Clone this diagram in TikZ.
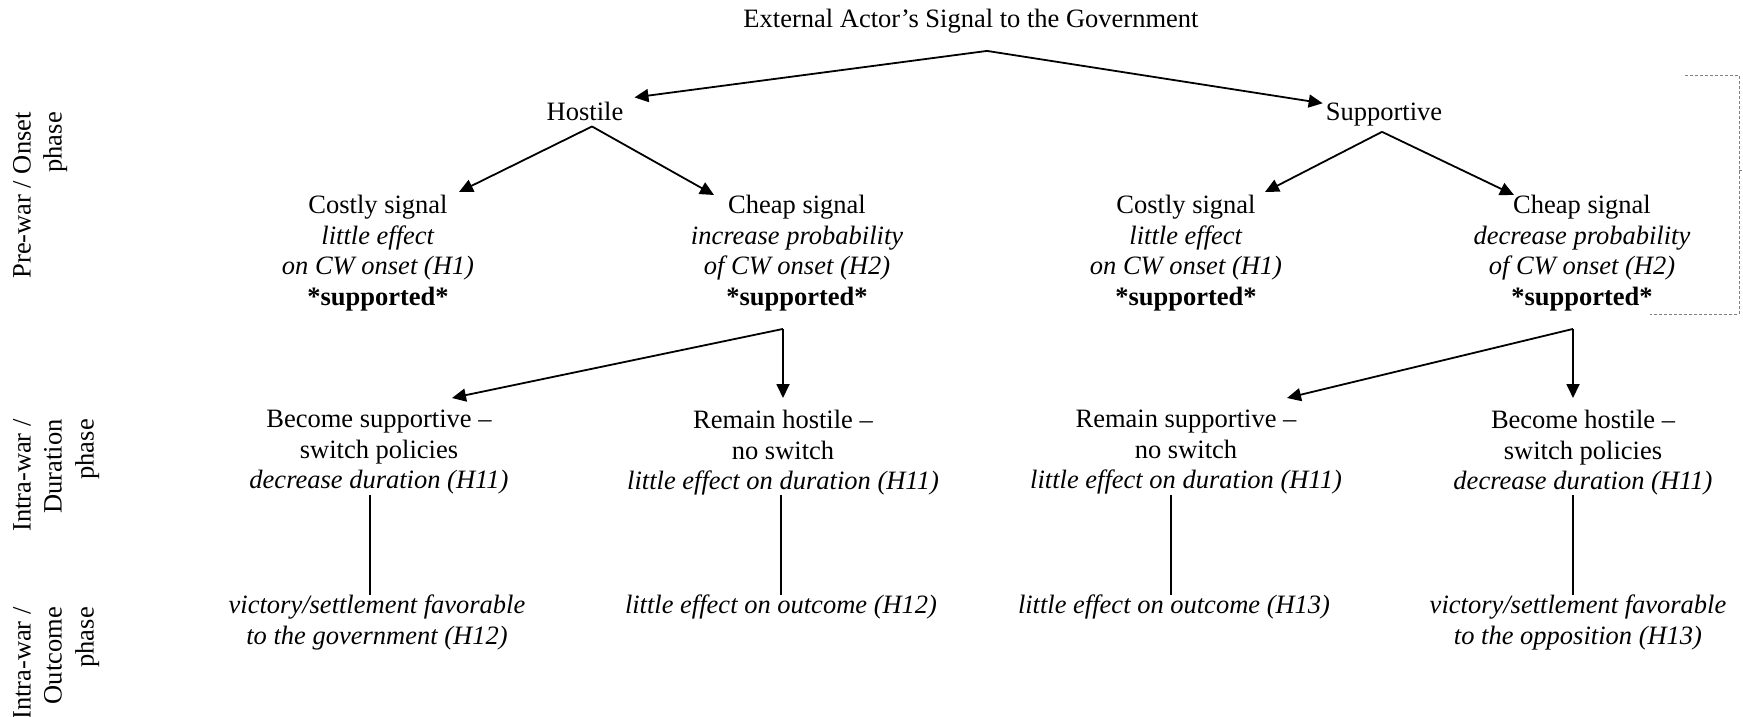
\documentclass[tikz,border=0pt]{standalone}
\usepackage{fontspec}
\setmainfont{Liberation Serif}
\usetikzlibrary{arrows.meta,calc}

\begin{document}
\begin{tikzpicture}[x=1pt, y=-1pt,
    every node/.style={inner sep=0pt, align=center, font=\fontsize{26.5}{30.5}\selectfont},
    phaselabel/.style={rotate=90, anchor=north east, align=right, font=\fontsize{26.5}{31}\selectfont},
    sigarrow/.style={-{Triangle[length=14pt,width=13pt]}, line width=1.8pt},
    stem/.style={line width=1.8pt},
    bracket/.style={densely dashed, gray, line width=0.8pt}]
    \useasboundingbox (0,0) rectangle (1743,717);

    % phases
    \node[phaselabel] (onset)    at (13,112) {Pre-war / Onset\\ phase};
    \node[phaselabel] (duration) at (13,419) {Intra-war /\\ Duration\\[1pt] phase};
    \node[phaselabel] (outcome)  at (13,607) {Intra-war /\\ Outcome\\[1pt] phase};

    % signal
    \node[anchor=base] (sig) at (971,28)  {External Actor’s Signal to the Government};
    \node[anchor=base] (hos) at (585,120) {Hostile};
    \node[anchor=base] (sup) at (1384,120) {Supportive};

    % onset
    \node[anchor=north] (costlyH) at (378,195)  {Costly signal\\ \textit{little effect}\\ \textit{on CW onset (H1)}\\ \textbf{*supported*}};
    \node[anchor=north] (cheapH)  at (797,195)  {Cheap signal\\ \textit{increase probability}\\ \textit{of CW onset (H2)}\\ \textbf{*supported*}};
    \node[anchor=north] (costlyS) at (1186,195) {Costly signal\\ \textit{little effect}\\ \textit{on CW onset (H1)}\\ \textbf{*supported*}};
    \node[anchor=north] (cheapS)  at (1582,195) {Cheap signal\\ \textit{decrease probability}\\ \textit{of CW onset (H2)}\\ \textbf{*supported*}};

    % duration
    \node[anchor=north] (becSup) at (379,410)  {Become supportive --\\ switch policies\\ \textit{decrease duration (H11)}};
    \node[anchor=north] (remHos) at (783,410)  {Remain hostile --\\ no switch\\ \textit{little effect on duration (H11)}};
    \node[anchor=north] (remSup) at (1186,410) {Remain supportive --\\ no switch\\ \textit{little effect on duration (H11)}};
    \node[anchor=north] (becHos) at (1583,410) {Become hostile --\\ switch policies\\ \textit{decrease duration (H11)}};

    % outcome
    \node[anchor=north] (outGov) at (377,595)  {\textit{victory/settlement favorable}\\ \textit{to the government (H12)}};
    \node[anchor=north] (outRH)  at (781,595)  {\textit{little effect on outcome (H12)}};
    \node[anchor=north] (outRS)  at (1174,595) {\textit{little effect on outcome (H13)}};
    \node[anchor=north] (outOpp) at (1578,595) {\textit{victory/settlement favorable}\\ \textit{to the opposition (H13)}};

    \coordinate (f0) at ([xshift=16pt,yshift=-17pt]sig.south);
    \coordinate (f1) at ([xshift=7pt,yshift=-6pt]hos.south);
    \coordinate (f2) at ([xshift=-2pt,yshift=-6pt]sup.south);
    \coordinate (f3) at ($(cheapH.south -| remHos.north)+(0,18)$);
    \coordinate (f4) at ($(cheapS.south)+(-9,18)$);

    \path[sigarrow]
    (f0) edge ([xshift=11pt,yshift=4pt]hos.north east)
         edge ([xshift=-3pt,yshift=-1pt]sup.north west)
    (f1) edge ([xshift=81pt,yshift=3pt]costlyH.north)
         edge ([xshift=-83pt]cheapH.north)
    (f2) edge ([xshift=79pt,yshift=3pt]costlyS.north)
         edge ([xshift=-68pt]cheapS.north)
    (f3) edge ([xshift=73pt,yshift=12pt]becSup.north)
         edge ([yshift=12pt]remHos.north)
    (f4) edge ([xshift=101pt,yshift=12pt]remSup.north)
         edge ([xshift=-10pt,yshift=12pt]becHos.north);

    \path[stem]
    ([xshift=-9pt]becSup.south)  edge ([xshift=-7pt]outGov.north)
    ([xshift=-2pt]remHos.south)  edge (outRH.north)
    ([xshift=-15pt]remSup.south) edge ([xshift=-3pt]outRS.north)
    ([xshift=-10pt]becHos.south) edge ([xshift=-5pt]outOpp.north);

    % bracket round the onset phase
    \draw[bracket] (1685,75) -- (1739,75) -- (1739,314) -- (1650,314);
    \draw[bracket] (1739,170) -- (1743,170);
\end{tikzpicture}
\end{document}
